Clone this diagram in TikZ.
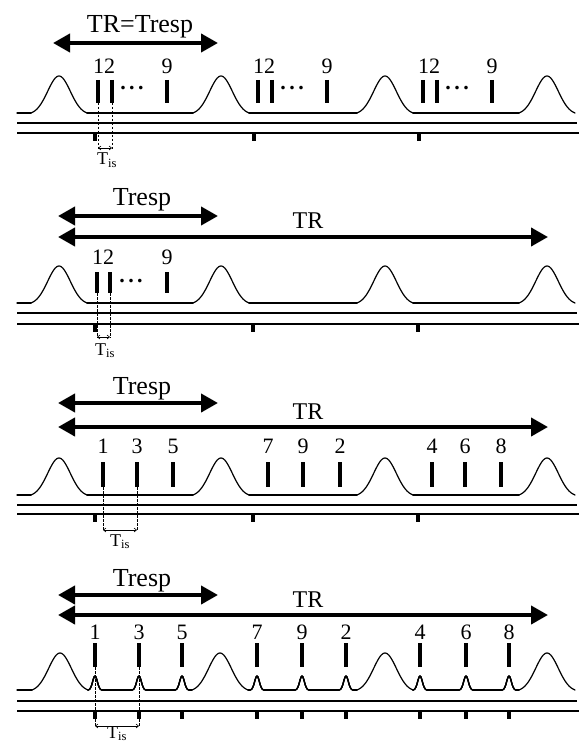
\documentclass[tikz,border=0pt]{standalone}
\usepackage{fontspec}
\setmainfont{Liberation Serif}
\usetikzlibrary{arrows.meta}

% one big respiratory bump (truncated Gaussian): centre x, baseline y
\newcommand\bigbump[2]{%
  \draw[sig] plot[domain=-28:28, samples=45, smooth]
    ({#1+\x},{#2-38.8*exp(-(\x/16)^2)+1.8});}
% small bump under a slice: centre x, baseline y
\newcommand\smallbump[2]{%
  \draw[sig] plot[domain=-7:7, samples=21, smooth]
    ({#1+\x},{#2-14.1*exp(-(\x/3.3)^2)+0.1});}

\tikzset{
  sig/.style={line width=1.2pt, line cap=round, line join=round},
  rail/.style={line width=1.8pt},
  span/.style={line width=4pt,
    {Triangle[length=17pt,width=18pt]}-{Triangle[length=17pt,width=18pt]}},
  slice/.style={line width=3.6pt},
  guide/.style={dash pattern=on 2.5pt off 1.5pt, line width=0.5pt},
  gap/.style={line width=0.6pt,
    {Straight Barb[length=2.5pt,width=4pt]}-{Straight Barb[length=2.5pt,width=4pt]}},
  num/.style={font=\fontsize{22}{22}\selectfont, anchor=base, inner sep=0pt},
  big/.style={font=\fontsize{26}{26}\selectfont, anchor=base, inner sep=0pt},
  trlabel/.style={font=\fontsize{24}{24}\selectfont, anchor=base, inner sep=0pt},
  sub/.style={font=\fontsize{18}{18}\selectfont, anchor=base, inner sep=0pt},
  dotrow/.style={font=\fontsize{22}{22}\selectfont\bfseries, anchor=base, inner sep=0pt},
}

\begin{document}
\begin{tikzpicture}[x=1pt, y=-1pt]
\useasboundingbox (0,0) rectangle (579,743);

% ---------------- panel 1: TR = Tresp ----------------
\coordinate (a1L) at (53,43); \coordinate (a1R) at (218,43);
\draw[span] (a1L) -- (a1R);
\node[big] (h1) at (140,33) {TR=Tresp};

\foreach \a/\b in {17/31, 87/193, 249/357, 413/519} \draw[sig] (\a,113) -- (\b,113);
\foreach \c in {59,221,385,547} \bigbump{\c}{113}
\draw[rail] (17,123) -- (577,123);
\draw[rail] (17,133) -- (579,133);
\foreach \x in {95,254,419} \fill (\x-1.8,133) rectangle (\x+1.8,141);

\foreach \g [count=\k] in {98,258,423} {
  \draw[slice] (\g,80) -- (\g,103);
  \draw[slice] (\g+14,80) -- (\g+14,103);
  \draw[slice] (\g+69,80) -- (\g+69,103);
  \node[num] (p1a\k) at (\g+6,74) {12};
  \node[num] (p1b\k) at (\g+69,74) {9};
  \node[dotrow] (p1d\k) at (\g+34,90) {.\hspace{3.5pt}.\hspace{3.5pt}.};
}
\coordinate (g1a) at (98,103);  \coordinate (g1b) at (112,103);
\coordinate (e1a) at (98,148);  \coordinate (e1b) at (112,148);
\draw[guide] (g1a) -- (98,149); \draw[guide] (g1b) -- (112,149);
\draw[gap] (e1a) -- (e1b);
\node[sub] (tis1) at (107,165) {T\textsubscript{is}};

% ---------------- panel 2: Tresp < TR, slices grouped ----------------
\coordinate (b2L) at (58,216); \coordinate (b2R) at (218,216);
\coordinate (c2L) at (58,237); \coordinate (c2R) at (548,237);
\draw[span] (b2L) -- (b2R);
\draw[span] (c2L) -- (c2R);
\node[big] (h2a) at (142,206) {Tresp};
\node[trlabel] (h2b) at (308,229) {TR};

\foreach \a/\b in {17/31, 87/193, 249/357, 413/519} \draw[sig] (\a,303) -- (\b,303);
\foreach \c in {59,221,385,547} \bigbump{\c}{303}
\draw[rail] (17,313) -- (577,313);
\draw[rail] (17,324) -- (579,324);
\foreach \x in {95,253,418} \fill (\x-1.8,324) rectangle (\x+1.8,332);

\foreach \x in {97,110,167} \draw[slice] (\x,272) -- (\x,293);
\node[num] (p2a) at (103,264) {12};
\node[num] (p2b) at (167,264) {9};
\node[dotrow] (p2d) at (131,282) {.\hspace{3.5pt}.\hspace{3.5pt}.};
\coordinate (g2a) at (97,293);  \coordinate (g2b) at (110,293);
\coordinate (e2a) at (97,337);  \coordinate (e2b) at (110,337);
\draw[guide] (g2a) -- (97,338); \draw[guide] (g2b) -- (110,338);
\draw[gap] (e2a) -- (e2b);
\node[sub] (tis2) at (105,355) {T\textsubscript{is}};

% ---------------- panel 3: interleaved slices ----------------
\coordinate (b3L) at (58,403); \coordinate (b3R) at (218,403);
\coordinate (c3L) at (58,427); \coordinate (c3R) at (548,427);
\draw[span] (b3L) -- (b3R);
\draw[span] (c3L) -- (c3R);
\node[big] (h3a) at (142,394) {Tresp};
\node[trlabel] (h3b) at (308,419) {TR};

\foreach \a/\b in {17/31, 87/193, 249/357, 413/519} \draw[sig] (\a,495) -- (\b,495);
\foreach \c in {59,221,385,547} \bigbump{\c}{495}
\draw[rail] (17,505) -- (577,505);
\draw[rail] (17,514) -- (579,514);
\foreach \x in {95,253,418} \fill (\x-1.8,514) rectangle (\x+1.8,522);

\foreach \x/\t in {103/1,137/3,173/5,268/7,303/9,340/2,432/4,465/6,501/8} {
  \draw[slice] (\x,462) -- (\x,487);
  \node[num] (p3-\t) at (\x,453) {\t};
}
\coordinate (g3a) at (103,487); \coordinate (g3b) at (137,487);
\coordinate (e3a) at (103,530); \coordinate (e3b) at (137,530);
\draw[guide] (g3a) -- (103,531); \draw[guide] (g3b) -- (137,531);
\draw[gap] (e3a) -- (e3b);
\node[sub] (tis3) at (120,546) {T\textsubscript{is}};

% ---------------- panel 4: interleaved slices with small bumps ----------------
\coordinate (b4L) at (58,595); \coordinate (b4R) at (218,595);
\coordinate (c4L) at (58,615); \coordinate (c4R) at (548,615);
\draw[span] (b4L) -- (b4R);
\draw[span] (c4L) -- (c4R);
\node[big] (h4a) at (142,586) {Tresp};
\node[trlabel] (h4b) at (308,607) {TR};

\foreach \a/\b in {17/32, 88/88, 102/132, 146/175, 189/192, 248/250, 264/295,
                   309/339, 353/357, 413/413, 427/459, 473/502, 516/519}
  \draw[sig] (\a,690) -- (\b,690);
\foreach \c in {60,220,385,547} \bigbump{\c}{690}
\foreach \c in {95,139,182,257,302,346,420,466,509} \smallbump{\c}{690}
\draw[rail, line width=2.6pt] (17,701) -- (577,701);
\draw[rail] (17,711) -- (579,711);

\foreach \x/\t in {95/1,139/3,182/5,257/7,302/9,346/2,420/4,466/6,509/8} {
  \draw[slice] (\x,643) -- (\x,667);
  \node[num] (p4-\t) at (\x,639) {\t};
  \fill (\x-1.8,711) rectangle (\x+1.8,719);
}
\coordinate (g4a) at (95,667);  \coordinate (g4b) at (139,667);
\coordinate (e4a) at (95,726);  \coordinate (e4b) at (139,726);
\draw[guide] (g4a) -- (95,727); \draw[guide] (g4b) -- (139,727);
\draw[gap] (e4a) -- (e4b);
\node[sub] (tis4) at (117,738) {T\textsubscript{is}};
\end{tikzpicture}
\end{document}
